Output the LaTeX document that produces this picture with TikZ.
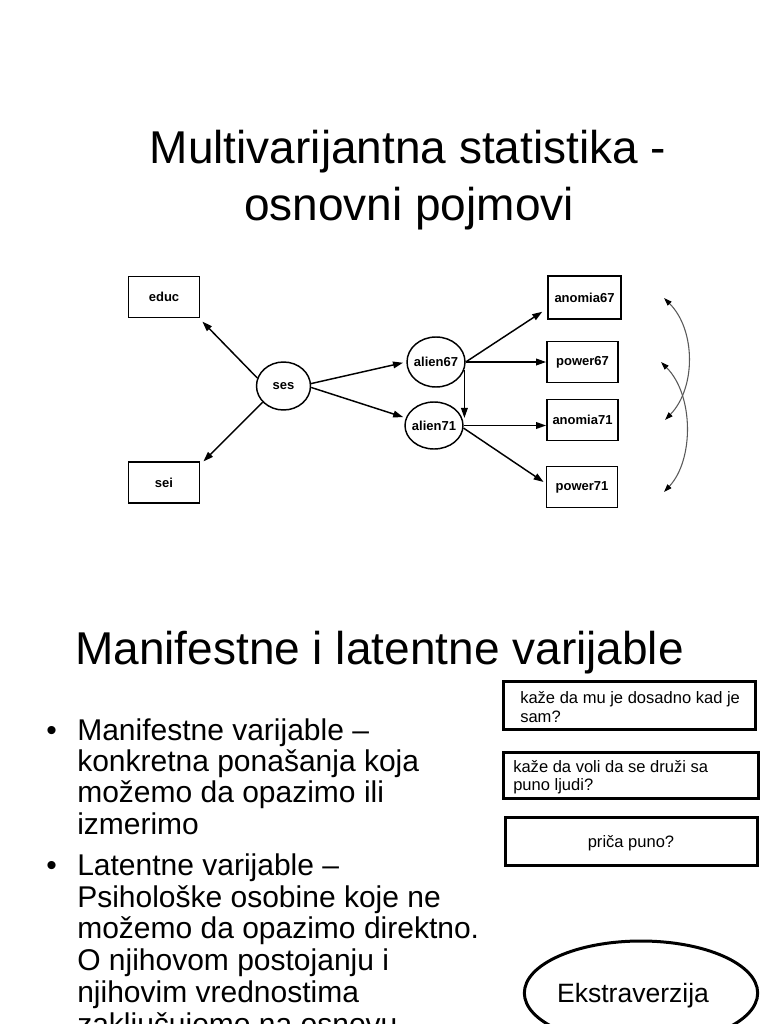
\documentclass[tikz,border=0pt]{standalone}
\usepackage{fontspec}
\setmainfont{Liberation Sans}
\usetikzlibrary{arrows.meta,shapes.geometric,calc}
\begin{document}
\begin{tikzpicture}[x=0.75pt,y=-0.75pt,
  dlabel/.style={font=\fontsize{9.75}{11}\selectfont\bfseries},
  mvar/.style={draw,line width=1.1pt,minimum width=53.5pt,minimum height=30.5pt,inner sep=0pt,dlabel},
  lvar/.style={draw,ellipse,line width=1.1pt,inner sep=0pt,dlabel},
  arr/.style={line width=1.1pt,-{Triangle[length=7.5pt,width=5pt]}},
  corr/.style={draw=black!65,line width=0.8pt,{Triangle[length=6pt,width=4pt,color=black]}-{Triangle[length=6pt,width=4pt,color=black]}},
  titletext/.style={font=\fontsize{34.5}{42}\selectfont,inner sep=0pt},
  btext/.style={font=\fontsize{22.5}{27}\selectfont,inner sep=0pt,anchor=base west},
  qbox/.style={draw,line width=2.25pt,inner sep=0pt},
  qtext/.style={font=\fontsize{12.4}{14}\selectfont,inner sep=0pt,anchor=base west}]
\useasboundingbox (0,0) rectangle (768,1024);
\clip (0,0) rectangle (768,1024);
\fill[white] (0,0) rectangle (768,1024);

% title
\node[titletext,anchor=base] (t1) at (408,163) {Multivarijantna statistika -};
\node[titletext,anchor=base] (t2) at (409,220) {osnovni pojmovi};

% path diagram
\node[mvar] (educ) at (164,297) {educ};
\node[mvar] (sei) at (164,482.5) {sei\hspace{9pt}};
\node[lvar,minimum width=40.5pt,minimum height=36pt] (ses) at (283.5,386) {\makebox[0pt]{ses}};
\node[lvar,minimum width=43.5pt,minimum height=37.5pt] (alien67) at (436,362) {\makebox[0pt]{alien67}};
\node[lvar,minimum width=43.5pt,minimum height=35.25pt] (alien71) at (434,425.5) {\makebox[0pt]{alien71}};
\node[mvar,minimum width=54.75pt,minimum height=32.25pt] (anomia67) at (584.5,297.5) {anomia67};
\node[mvar] (power67) at (582.5,362) {power67};
\node[mvar] (anomia71) at (582.5,420) {anomia71};
\node[mvar] (power71) at (582,487) {power71};

\draw[arr] (ses.163) -- ([shift={(2,3.5)}]educ.south east);
\draw[arr] (ses.218) -- ([shift={(3,0)}]sei.north east);
\draw[arr,shorten >=2.5pt] (ses.5) -- (alien67.west);
\draw[arr,shorten >=2pt] (ses.-3) -- (alien71.165);
\draw[arr] (alien67.east) -- ([shift={(-5,-8)}]anomia67.south west);
\draw[arr] (alien67.east) -- (alien67.east -| power67.west);
\draw[arr] (alien67.-15) -- (alien67.-15 |- alien71.15);
\draw[arr] (alien71.east) -- (alien71.east -| anomia71.west);
\draw[arr] (alien71.-5) -- ([shift={(-2,-5)}]power71.west);

\coordinate (c1a) at (664,298);
\coordinate (c1b) at (665,420);
\coordinate (c2a) at (661,362);
\coordinate (c2b) at (664,492);
\draw[corr] (c1a) .. controls (696,330) and (696,388) .. (c1b);
\draw[corr] (c2a) .. controls (694,395) and (694,460) .. (c2b);

% second slide
\node[titletext,anchor=base west] (h) at (75,664) {Manifestne i latentne varijable};

\node[btext] (b1) at (46,740) {•};
\node[btext] (l1) at (77,740) {Manifestne varijable –};
\node[btext] (l2) at (77,771) {konkretna ponašanja koja};
\node[btext] (l3) at (77,802) {možemo da opazimo ili};
\node[btext] (l4) at (77,834) {izmerimo};
\node[btext] (b2) at (46,875) {•};
\node[btext] (l5) at (77,875) {Latentne varijable –};
\node[btext] (l6) at (77,907) {Psihološke osobine koje ne};
\node[btext] (l7) at (77,938) {možemo da opazimo direktno.};
\node[btext] (l8) at (77,970) {O njihovom postojanju i};
\node[btext] (l9) at (77,1002) {njihovim vrednostima};
\node[btext] (l10) at (77,1034) {zaključujemo na osnovu};

\node[qbox,minimum width=189pt,minimum height=36pt] (q1) at (629,705) {};
\node[qtext] (q1a) at (520,703) {kaže da mu je dosadno kad je};
\node[qtext] (q1b) at (520,722) {sam?};
\node[qbox,minimum width=191.25pt,minimum height=34.5pt] (q2) at (630.5,775) {};
\node[qtext] (q2a) at (513,772) {kaže da voli da se druži sa};
\node[qtext] (q2b) at (513,790.5) {puno ljudi?};
\node[qbox,minimum width=189pt,minimum height=36pt] (q3) at (631,841) {};
\node[qtext,anchor=base] (q3a) at (631,847) {priča puno?};

\node[draw,ellipse,line width=2.25pt,minimum width=175pt,minimum height=78pt,inner sep=0pt] (ek) at (641,993) {};
\node[font=\fontsize{19.9}{24}\selectfont,inner sep=0pt,anchor=base] (ekt) at (633,1002.5) {Ekstraverzija};
\end{tikzpicture}
\end{document}
